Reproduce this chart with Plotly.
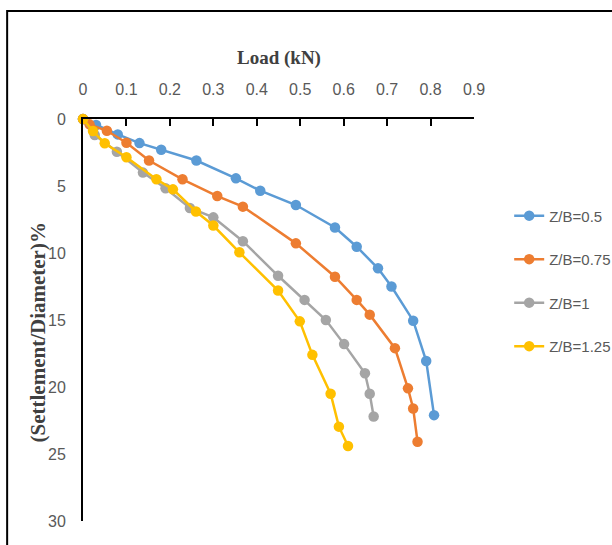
import plotly.graph_objects as go

names = ["Z/B=0.5", "Z/B=0.75", "Z/B=1", "Z/B=1.25"]
colors = ["#5B9BD5", "#ED7D31", "#A5A5A5", "#FFC000"]

load_05 = [0, 0.03, 0.08, 0.13, 0.18, 0.261, 0.352, 0.408, 0.49, 0.58, 0.63, 0.679, 0.71, 0.76, 0.79, 0.808]
sett_05 = [0, 0.45, 1.15, 1.8, 2.3, 3.1, 4.43, 5.35, 6.42, 8.1, 9.53, 11.14, 12.5, 15.05, 18.06, 22.1]

load_075 = [0, 0.015, 0.055, 0.1, 0.152, 0.229, 0.309, 0.368, 0.49, 0.58, 0.63, 0.66, 0.718, 0.748, 0.76, 0.77]
sett_075 = [0, 0.4, 0.88, 1.77, 3.1, 4.5, 5.75, 6.54, 9.28, 11.77, 13.5, 14.6, 17.1, 20.1, 21.6, 24.08]

load_1 = [0, 0.027, 0.078, 0.138, 0.19, 0.246, 0.30, 0.368, 0.449, 0.51, 0.559, 0.601, 0.649, 0.66, 0.669]
sett_1 = [0, 1.2, 2.45, 4.0, 5.17, 6.64, 7.34, 9.12, 11.7, 13.5, 15.0, 16.8, 18.98, 20.5, 22.2]

load_125 = [0, 0.023, 0.05, 0.1, 0.169, 0.207, 0.26, 0.30, 0.36, 0.449, 0.499, 0.528, 0.57, 0.589, 0.61]
sett_125 = [0, 0.9, 1.81, 2.85, 4.5, 5.25, 6.9, 7.95, 9.95, 12.8, 15.1, 17.6, 20.5, 22.96, 24.4]

xs = [load_05, load_075, load_1, load_125]
ys = [sett_05, sett_075, sett_1, sett_125]

fig = go.Figure()
for i in range(4):
    fig.add_trace(go.Scatter(
        x=xs[i], y=ys[i], name=names[i], mode="lines+markers",
        line=dict(color=colors[i], width=2.5),
        marker=dict(color=colors[i], size=10.5),
        legendgroup=names[i], cliponaxis=False,
    ))

tickfont = dict(family="Liberation Sans Narrow, Arial Narrow, Liberation Sans", size=16, color="#595959")
titlefont = dict(family="Liberation Serif, Times New Roman", color="#404040")

fig.update_layout(
    width=612, height=545,
    margin=dict(l=83, r=138, t=119, b=24, autoexpand=False),
    paper_bgcolor="white", plot_bgcolor="white",
    showlegend=True,
    legend=dict(x=1.09, y=0.80, xanchor="left", yanchor="top",
                font=dict(family="Liberation Sans Narrow, Arial Narrow, Liberation Sans", size=15, color="#595959"),
                tracegroupgap=21, itemwidth=30, bgcolor="rgba(0,0,0,0)"),
    xaxis=dict(side="top", range=[0, 0.9], dtick=0.1, tick0=0,
               showgrid=False, zeroline=False,
               showline=True, linecolor="black", linewidth=2,
               ticks="inside", ticklen=7, tickwidth=2, tickcolor="black",
               tickfont=tickfont, ticklabelstandoff=16),
    yaxis=dict(range=[30, 0], dtick=5, tick0=0,
               showgrid=False, zeroline=False,
               showline=True, linecolor="black", linewidth=2,
               ticks="", tickfont=tickfont, ticklabelstandoff=12),
    annotations=[
        dict(text="<b>Load (kN)</b>", xref="paper", yref="paper", x=0.501, y=1.152,
             xanchor="center", yanchor="middle", showarrow=False,
             font=dict(size=19, **titlefont)),
        dict(text="<b>(Settlement/Diameter)%</b>", xref="paper", yref="paper", x=-0.114, y=0.47,
             xanchor="center", yanchor="middle", showarrow=False, textangle=-90,
             font=dict(size=21, **titlefont)),
    ],
    shapes=[dict(type="rect", xref="paper", yref="paper",
                 x0=-0.194, x1=1.5, y0=-0.2, y1=1.2687,
                 line=dict(color="black", width=2), fillcolor="rgba(0,0,0,0)", layer="below")],
)

fig.write_html("out.html", config={"displayModeBar": False},
               post_script="document.body.style.margin='0px';document.body.style.padding='0px';")
